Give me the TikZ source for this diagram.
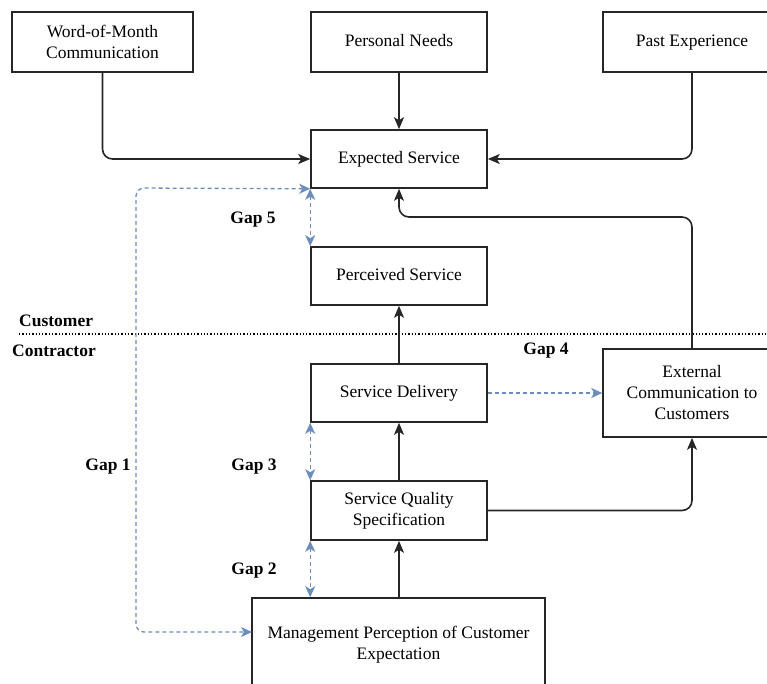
\documentclass[tikz,border=0pt]{standalone}
\usepackage{fontspec}
\setmainfont{Liberation Serif}
\usetikzlibrary{arrows.meta}
\definecolor{gapblue}{HTML}{6C8EBF}
\begin{document}
\begin{tikzpicture}[x=1pt,y=-1pt,
  box/.style={draw=black!85,line width=1.6pt,fill=white,align=center,inner sep=0pt,
    font=\fontsize{17.5}{21}\selectfont},
  one/.style={text height=12.5pt,text depth=3.5pt},
  flow/.style={draw=black!85,line width=1.6pt,rounded corners=10pt,
    -{Stealth[length=12pt,width=10pt,inset=3pt]}},
  gap/.style={draw=gapblue,line width=1.3pt,dash pattern=on 4pt off 3pt,rounded corners=8pt,
    {Stealth[length=11pt,width=10pt,inset=3pt]}-{Stealth[length=11pt,width=10pt,inset=3pt]}},
  gapone/.style={draw=gapblue,line width=1.3pt,dash pattern=on 4pt off 3pt,
    -{Stealth[length=11pt,width=10pt,inset=3pt]}},
  lbl/.style={font=\fontsize{17.5}{21}\selectfont\bfseries,inner sep=0pt}]
\useasboundingbox (0,0) rectangle (767,683);
\clip (0,0) rectangle (767,683);
% boxes
\node[box,minimum width=181pt,minimum height=60pt] (wom) at (102.5,42) {Word-of-Month\\Communication};
\node[box,one,minimum width=176pt,minimum height=60pt] (pn) at (399,42) {Personal Needs};
\node[box,one,minimum width=178pt,minimum height=60pt] (pe) at (692,42) {Past Experience};
\node[box,one,minimum width=176pt,minimum height=58pt] (es) at (399,159) {Expected Service};
\node[box,one,minimum width=176pt,minimum height=58pt] (ps) at (399,276) {Perceived Service};
\node[box,one,minimum width=176pt,minimum height=58pt] (sd) at (399,393) {Service Delivery};
\node[box,minimum width=178pt,minimum height=88pt] (ec) at (692,393) {External\\Communication to\\Customers};
\node[box,minimum width=176pt,minimum height=59pt] (sq) at (399,510.5) {Service Quality\\Specification};
\node[box,minimum width=293pt,minimum height=94pt] (mp) at (398.5,645) {Management Perception of Customer\\Expectation};
% divider
\coordinate (dl) at (19,334);
\coordinate (dr) at (767,334);
\draw[line width=1.3pt,dotted] (dl) -- (dr);
\node[lbl,anchor=west] (cust) at (19,321) {Customer};
\node[lbl,anchor=west] (cont) at (12,351) {Contractor};
% black flows
\draw[flow] (pn) -- (es);
\draw[flow] (wom.south) |- (es.west);
\draw[flow] (pe.south) |- (es.east);
\coordinate (ectop) at (692,217);
\draw[flow] (ec.north) -- (ectop) -| (es.south);
\draw[flow] (sd) -- (ps);
\draw[flow] (sq) -- (sd);
\draw[flow] (mp.north -| sq.south) -- (sq.south);
\draw[flow] (sq.east) -| (ec.south);
% gaps
\draw[gap] (es.south west) -- (ps.north west);
\draw[gap] (sd.south west) -- (sq.north west);
\draw[gap] (sq.south west) -- (sq.south west |- mp.north);
\draw[gapone] (sd.east) -- (ec.west);
\coordinate (g1top) at (136,188);
\coordinate (g1bot) at (136,632);
\coordinate (mpin) at (252,632);
\draw[gap] (es.south west) -- (g1top) -- (g1bot) -- (mpin);
% gap labels
\node[lbl] (gap5) at (253,220) {Gap 5};
\node[lbl] (gap4) at (546,351) {Gap 4};
\node[lbl] (gap3) at (254,467) {Gap 3};
\node[lbl] (gap1) at (108,467) {Gap 1};
\node[lbl] (gap2) at (254,571) {Gap 2};
\end{tikzpicture}
\end{document}
